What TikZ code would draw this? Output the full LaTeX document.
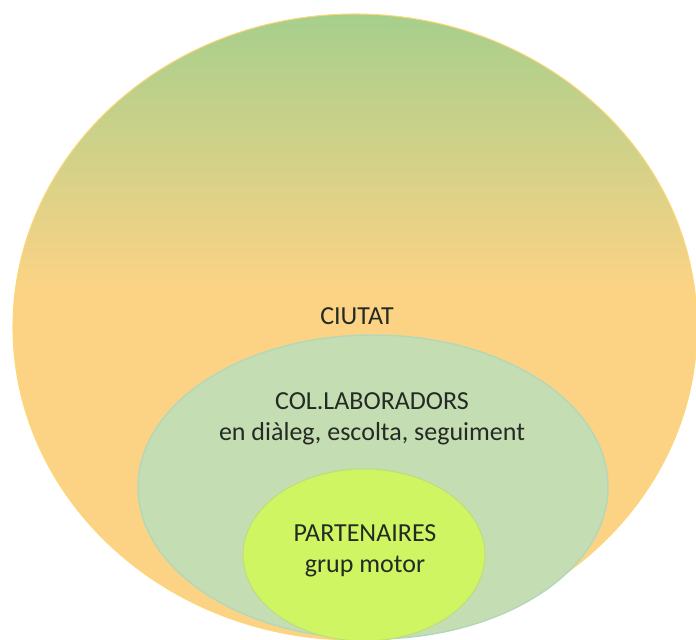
\documentclass[tikz,border=0pt]{standalone}
\usepackage{fontspec}
\setmainfont{Carlito}
\definecolor{verdC}{HTML}{A6CF8C}
\definecolor{taronjaC}{HTML}{FCD385}
\definecolor{verdCol}{HTML}{C5DDB3}
\definecolor{voraCol}{HTML}{B3D8B8}
\definecolor{grocPart}{HTML}{CFF562}
\definecolor{textC}{HTML}{232B23}
\pgfdeclareverticalshading{ciutatshade}{100bp}{color(0bp)=(taronjaC); color(53bp)=(taronjaC); color(75bp)=(verdC); color(100bp)=(verdC)}
\begin{document}
\begin{tikzpicture}[x=0.02cm,y=-0.02cm]
\tikzset{etiq/.style={text=textC, align=center, anchor=base, font=\fontsize{14.8pt}{17.1pt}\selectfont}}
\useasboundingbox (0,0) rectangle (696,639);
\clip (0,0) rectangle (696,639);
\shade[shading=ciutatshade, draw=taronjaC!90!yellow, line width=0.6pt] (355,327) ellipse [x radius=342, y radius=313];
\fill[verdCol, draw=voraCol, line width=0.8pt] (373,487) ellipse [x radius=235, y radius=152];
\fill[grocPart, draw=grocPart!90!black!60!verdCol, line width=0.6pt] (364,555) ellipse [x radius=121, y radius=86];
\node[etiq] (ciutat) at (357,324) {CIUTAT};
\node[etiq] (collab) at (372,440) {COL.LABORADORS\\en diàleg, escolta, seguiment};
\node[etiq] (partn) at (365,572) {PARTENAIRES\\grup motor};
\end{tikzpicture}
\end{document}
